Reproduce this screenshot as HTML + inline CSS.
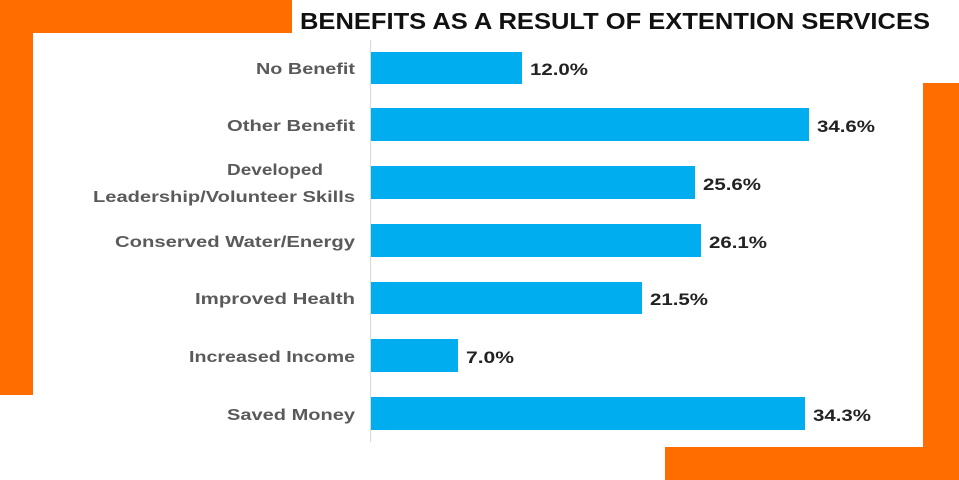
<!DOCTYPE html>
<html><head><meta charset="utf-8"><style>
html,body{margin:0;padding:0;background:#fff;}
svg{display:block;}
</style></head><body>
<svg width="959" height="480" xmlns="http://www.w3.org/2000/svg" font-family="Liberation Sans, sans-serif" font-weight="bold">
<rect width="959" height="480" fill="#fff"/>
<rect x="0" y="0" width="292" height="33" fill="#ff6d00"/>
<rect x="0" y="0" width="33" height="395" fill="#ff6d00"/>
<rect x="923" y="83" width="36" height="397" fill="#ff6d00"/>
<rect x="665" y="447" width="294" height="33" fill="#ff6d00"/>
<text x="300" y="29" font-size="23" fill="#111" textLength="630" lengthAdjust="spacingAndGlyphs">BENEFITS AS A RESULT OF EXTENTION SERVICES</text>
<line x1="370.5" y1="40" x2="370.5" y2="442" stroke="#d9d9d9" stroke-width="1"/>
<g fill="#00adee">
<rect x="371" y="52" width="151" height="32"/>
<rect x="371" y="108" width="438" height="33"/>
<rect x="371" y="166" width="324" height="33"/>
<rect x="371" y="224" width="330" height="33"/>
<rect x="371" y="282" width="271" height="32"/>
<rect x="371" y="339" width="87" height="33"/>
<rect x="371" y="397" width="434" height="33"/>
</g>
<g font-size="17" fill="#222">
<text x="530" y="75" textLength="58" lengthAdjust="spacingAndGlyphs">12.0%</text>
<text x="817" y="132" textLength="58" lengthAdjust="spacingAndGlyphs">34.6%</text>
<text x="703" y="190" textLength="58" lengthAdjust="spacingAndGlyphs">25.6%</text>
<text x="709" y="248" textLength="58" lengthAdjust="spacingAndGlyphs">26.1%</text>
<text x="650" y="305" textLength="58" lengthAdjust="spacingAndGlyphs">21.5%</text>
<text x="466" y="363" textLength="48" lengthAdjust="spacingAndGlyphs">7.0%</text>
<text x="813" y="421" textLength="58" lengthAdjust="spacingAndGlyphs">34.3%</text>
</g>
<g font-size="16" fill="#5a5a5a" text-anchor="end">
<text x="355" y="74" textLength="99" lengthAdjust="spacingAndGlyphs">No Benefit</text>
<text x="355" y="131" textLength="128" lengthAdjust="spacingAndGlyphs">Other Benefit</text>
<text x="275" y="175" text-anchor="middle" textLength="96" lengthAdjust="spacingAndGlyphs">Developed</text>
<text x="355" y="202" textLength="262" lengthAdjust="spacingAndGlyphs">Leadership/Volunteer Skills</text>
<text x="355" y="247" textLength="240" lengthAdjust="spacingAndGlyphs">Conserved Water/Energy</text>
<text x="355" y="304" textLength="160" lengthAdjust="spacingAndGlyphs">Improved Health</text>
<text x="355" y="362" textLength="166" lengthAdjust="spacingAndGlyphs">Increased Income</text>
<text x="355" y="420" textLength="128" lengthAdjust="spacingAndGlyphs">Saved Money</text>
</g>
</svg>
</body></html>
